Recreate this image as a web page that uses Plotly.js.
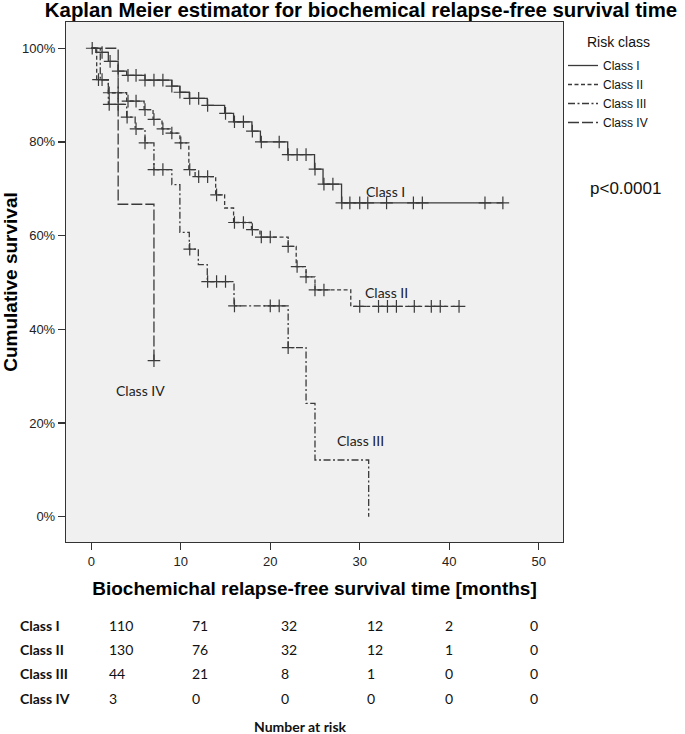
<!DOCTYPE html>
<html><head><meta charset="utf-8">
<script src="https://cdn.plot.ly/plotly-3.0.1.min.js"></script>
<style>html,body{margin:0;padding:0;background:#fff;}#chart{width:685px;height:734px;}</style>
</head><body><div id="chart"></div>
<script>
// ---------- data ----------
const classNames = ["Class I", "Class II", "Class III", "Class IV"];

// Class I
const stepTimesI = [0, 0.5, 1.9, 3.0, 3.95, 6.0, 9.0, 9.9, 10.95, 12.96, 14.9, 15.9, 17.95, 18.9, 21.95, 24.95, 25.9, 27.97];
const survI      = [100, 99.1, 97.2, 95.1, 94.2, 93.2, 91.9, 90.6, 89.3, 87.8, 86.1, 84.3, 82.3, 80.0, 77.3, 74.2, 71.0, 67.0];
const censorI    = [0.1, 1.2, 2.1, 3.0, 4.1, 5.0, 6.0, 7.0, 8.0, 9.0, 9.9, 11.0, 12.0, 13.0, 15.0, 16.0, 17.0, 18.0, 19.0, 21.0, 22.0, 23.0, 24.0, 25.0, 26.0, 27.0, 28.0, 28.9, 30.0, 30.9, 33.0, 36.0, 37.0, 44.0, 46.0];
const lastTimeI  = 46.0;

// Class II
const stepTimesII = [0, 0.6, 1.9, 3.95, 5.9, 6.9, 7.9, 8.9, 9.9, 10.9, 11.6, 13.9, 14.9, 15.9, 17.9, 18.85, 22.0, 22.9, 24.0, 25.0, 29.0];
const survII      = [100, 93.3, 90.5, 88.7, 86.9, 84.8, 82.8, 81.9, 79.8, 74.1, 72.6, 68.7, 65.9, 62.8, 61.3, 59.7, 57.7, 53.4, 51.2, 48.4, 44.9];
const censorII    = [0.8, 1.2, 2.0, 3.0, 4.1, 5.0, 6.0, 7.0, 8.0, 9.0, 10.0, 11.0, 12.0, 13.0, 14.0, 16.0, 17.0, 18.0, 19.0, 20.0, 22.0, 23.0, 24.0, 25.0, 26.0, 30.0, 32.1, 33.1, 34.1, 36.1, 38.0, 39.0, 41.1];
const lastTimeII  = 41.1;

// Class III
const stepTimesIII = [0, 1.0, 1.9, 3.95, 4.9, 6.0, 7.0, 9.0, 9.9, 10.95, 11.96, 12.96, 15.95, 22.0, 24.0, 25.0, 31.0];
const survIII      = [100, 93.2, 88.0, 85.3, 82.8, 79.8, 74.1, 70.9, 60.7, 57.1, 53.8, 50.2, 45.0, 36.1, 24.2, 12.1, 0];
const censorIII    = [2.0, 3.0, 4.0, 5.0, 6.0, 7.0, 8.0, 11.0, 13.0, 14.0, 15.0, 16.0, 20.0, 21.0, 22.0];
const lastTimeIII  = 31.0;

// Class IV
const stepTimesIV = [0, 3.0, 7.0];
const survIV      = [100, 66.7, 33.3];
const censorIV    = [7.0];
const lastTimeIV  = 7.0;

// Number at risk table
const riskTimes = [0, 10, 20, 30, 40, 50];
const riskI   = [110, 71, 32, 12, 2, 0];
const riskII  = [130, 76, 32, 12, 1, 0];
const riskIII = [44, 21, 8, 1, 0, 0];
const riskIV  = [3, 0, 0, 0, 0, 0];

const yTicks = [0, 20, 40, 60, 80, 100];
const yTickText = ["0%", "20%", "40%", "60%", "80%", "100%"];
const xTicks = [0, 10, 20, 30, 40, 50];
const pValueText = "p<0.0001";

// ---------- build ----------
const series = [
  {name: classNames[0], t: stepTimesI,   s: survI,   c: censorI,   last: lastTimeI,   dash: "solid"},
  {name: classNames[1], t: stepTimesII,  s: survII,  c: censorII,  last: lastTimeII,  dash: "4px,2.5px"},
  {name: classNames[2], t: stepTimesIII, s: survIII, c: censorIII, last: lastTimeIII, dash: "7px,2.5px,2px,2.5px"},
  {name: classNames[3], t: stepTimesIV,  s: survIV,  c: censorIV,  last: lastTimeIV,  dash: "11px,3px"}
];
const lineColor = "#3a3a3a";
function survAt(t, s, x) { let v = s[0]; for (let i = 0; i < t.length; i++) if (t[i] <= x + 1e-9) v = s[i]; return v; }

const traces = [];
series.forEach(function (d) {
  const xs = d.t.slice(), ys = d.s.slice();
  if (d.last > xs[xs.length - 1]) { xs.push(d.last); ys.push(ys[ys.length - 1]); }
  traces.push({x: xs, y: ys, type: "scatter", mode: "lines", name: d.name,
    line: {shape: "hv", color: lineColor, width: 1.3, dash: d.dash}, hoverinfo: "x+y"});
});
series.forEach(function (d) {
  traces.push({x: d.c, y: d.c.map(function (x) { return survAt(d.t, d.s, x); }), type: "scatter", mode: "markers",
    showlegend: false, name: d.name + " censored",
    marker: {symbol: "cross-thin", size: 9, line: {width: 1.2, color: lineColor}, color: lineColor}});
});

const F = "Liberation Sans, Arial, sans-serif";
const C = "Lato, Carlito, Calibri, sans-serif";
const mL = 66, mR = 122, mT = 22, mB = 192;
const pw = 685 - mL - mR, ph = 734 - mT - mB;
// page pixel -> paper coordinates
function pX(px) { return (px - mL) / pw; }
function pY(py) { return 1 - (py - mT) / ph; }

const annotations = [];
// curve labels
[[classNames[0], 32.9, 69.5], [classNames[1], 33.0, 47.8], [classNames[3], 5.55, 27.0], [classNames[2], 30.1, 16.2]].forEach(function (a) {
  annotations.push({x: a[1], y: a[2], xref: "x", yref: "y", xanchor: "center", yanchor: "middle", text: a[0], showarrow: false,
    font: {family: C, size: 14, color: "#222"}});
});
annotations.push({x: pX(625), y: pY(188), xref: "paper", yref: "paper", xanchor: "center", yanchor: "middle",
  text: pValueText, showarrow: false, font: {family: F, size: 17, color: "#111"}});
annotations.push({x: pX(585), y: pY(42), xref: "paper", yref: "paper", xanchor: "left", yanchor: "middle",
  text: "Risk class", showarrow: false, font: {family: F, size: 14, color: "#111"}});

// risk table
const rowY = [625, 649, 673, 698];
const colX = [107, 190, 279, 365, 443, 528];
const rows = [riskI, riskII, riskIII, riskIV];
rows.forEach(function (r, i) {
  annotations.push({xref: "paper", yref: "paper", x: pX(18), y: pY(rowY[i]), xanchor: "left", yanchor: "middle",
    text: "<b>" + classNames[i] + "</b>", showarrow: false, font: {family: C, size: 14, color: "#111"}});
  r.forEach(function (v, j) {
    annotations.push({xref: "paper", yref: "paper", x: pX(colX[j]), y: pY(rowY[i]), xanchor: "left", yanchor: "middle",
      text: String(v), showarrow: false, font: {family: C, size: 14, color: "#111"}});
  });
});
annotations.push({xref: "paper", yref: "paper", x: pX(300), y: pY(726), xanchor: "center", yanchor: "middle",
  text: "<b>Number at risk</b>", showarrow: false, font: {family: C, size: 14, color: "#111"}});

const layout = {
  width: 685, height: 734,
  margin: {l: mL, r: mR, t: mT, b: mB, pad: 0},
  paper_bgcolor: "#ffffff", plot_bgcolor: "#f0f0f0",
  title: {text: "<b>Kaplan Meier estimator for biochemical relapse-free survival time</b>",
    font: {family: F, size: 20.4, color: "#000"}, x: 361 / 685, xanchor: "center", xref: "container",
    y: 1 - 10 / 734, yanchor: "middle", yref: "container"},
  xaxis: {range: [-2.83, 52.72], tickmode: "array", tickvals: xTicks, ticks: "outside", ticklen: 7, tickwidth: 1.3, tickcolor: "#333",
    showline: true, mirror: true, linecolor: "#333", linewidth: 1.2, showgrid: false, zeroline: false,
    tickfont: {family: F, size: 13, color: "#222"},
    title: {text: "<b>Biochemichal relapse-free survival time [months]</b>", font: {family: F, size: 19, color: "#000"}, standoff: 14}},
  yaxis: {range: [-5.4, 105.6], tickmode: "array", tickvals: yTicks, ticktext: yTickText, ticks: "outside", ticklen: 7, tickwidth: 1.3, tickcolor: "#333",
    showline: true, mirror: true, linecolor: "#333", linewidth: 1.2, showgrid: false, zeroline: false,
    tickfont: {family: F, size: 13, color: "#222"},
    title: {text: "<b>Cumulative survival</b>", font: {family: F, size: 19, color: "#000"}, standoff: 0}},
  legend: {x: 563 / 685, y: 1 - 51 / 734, xref: "container", yref: "container", xanchor: "left", yanchor: "top",
    bgcolor: "rgba(0,0,0,0)", borderwidth: 0, font: {family: F, size: 12, color: "#111"}, itemwidth: 30, tracegroupgap: 0},
  showlegend: true,
  annotations: annotations
};

Plotly.newPlot("chart", traces, layout, {displayModeBar: false, staticPlot: true});
</script></body></html>
